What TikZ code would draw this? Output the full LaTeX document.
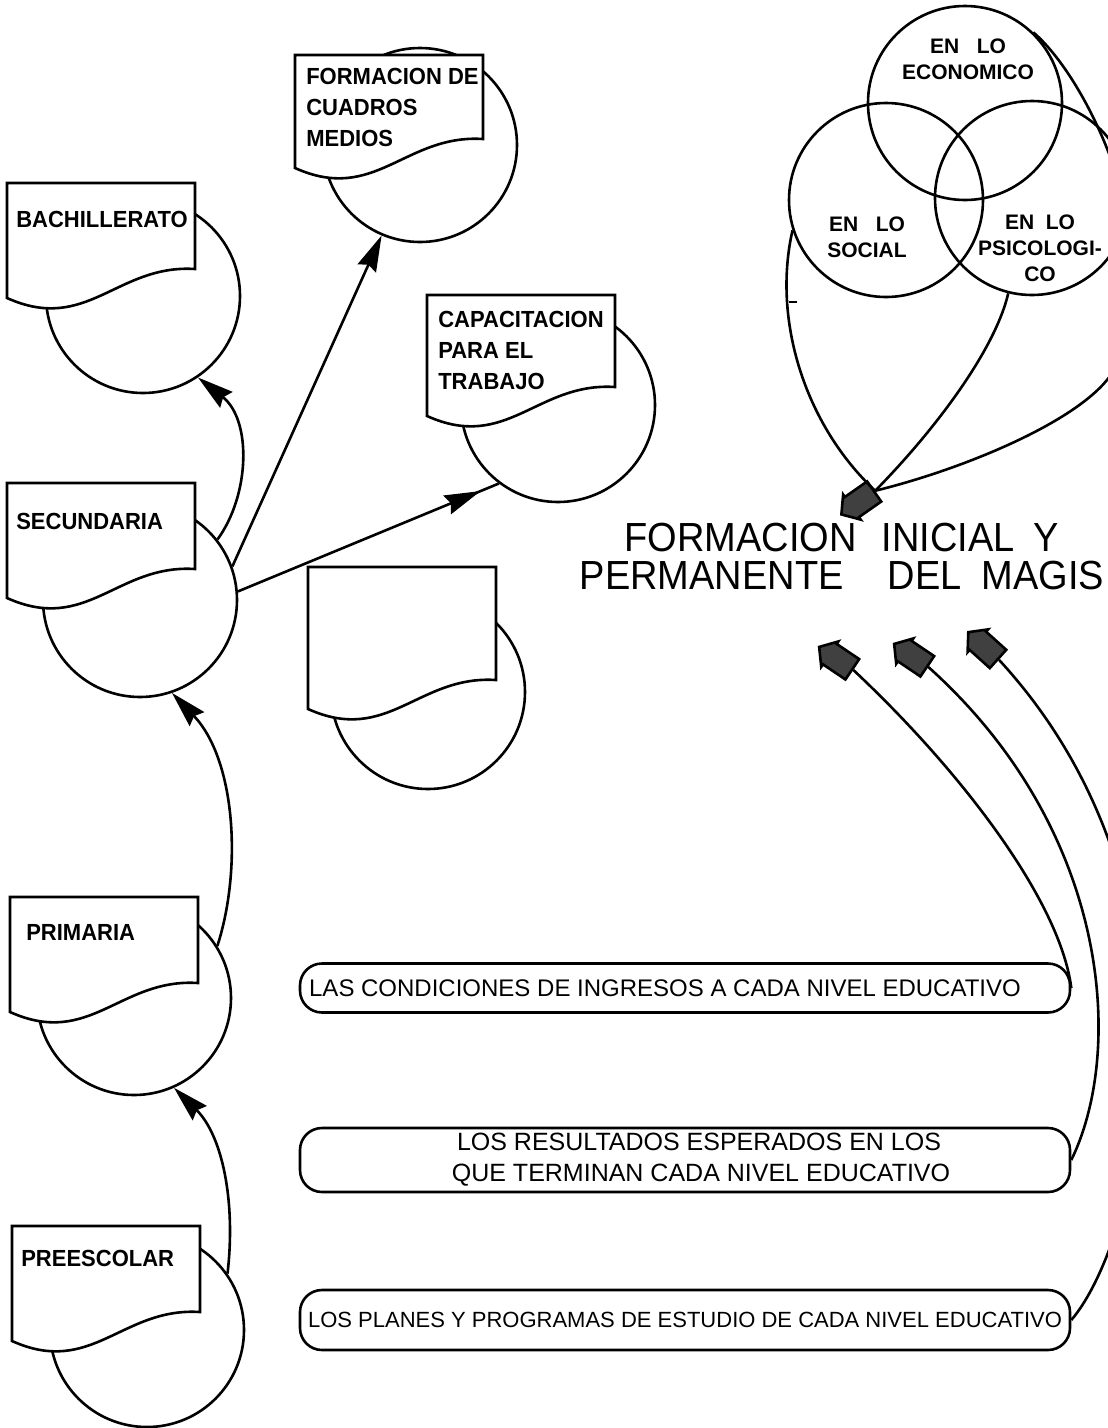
\documentclass[tikz,border=0pt]{standalone}
\usepackage{fontspec}
\setmainfont{Liberation Sans}
\usetikzlibrary{arrows.meta,shapes.arrows,decorations.markings}

\tikzset{
  disc/.style={draw, circle, minimum size=194pt, inner sep=0pt},
  boxlabel/.style={font=\fontsize{22}{29}\selectfont\bfseries, yscale=1.06, align=left, inner sep=0pt, anchor=north west},
  venntext/.style={font=\fontsize{21}{26}\selectfont\bfseries, align=center, inner sep=0pt},
  bigtitle/.style={font=\fontsize{38}{35.5}\selectfont, yscale=1.07, inner sep=0pt, align=center},
  pill/.style={draw, rounded corners=22pt, minimum width=770pt, inner sep=0pt, align=center, font=\fontsize{22}{31}\selectfont},
  blockarrow/.style={single arrow, draw, fill=black!75, inner sep=11pt, minimum height=40pt,
    single arrow head extend=3pt, single arrow tip angle=100},
  link/.style={-{Stealth[length=36pt,width=20pt,inset=4pt]}},
  midtip/.style={postaction={decorate}, decoration={markings,
    mark=at position #1 with {\arrow{Stealth[length=36pt,width=20pt,inset=4pt]}}}}
}

% #1 height of right side, #2 name, #3 top left, #4 circle centre, #5 text offset, #6 text
\newcommand{\docshape}[6][86]{%
  \node[disc] (#2c) at (#4) {};
  \begin{scope}[shift={(#3)}]
    \draw[fill=white] (0,0) coordinate (#2) -- (188,0) -- (188,#1)
      .. controls (110,#1-5) and (80,#1+65) .. (0,#1+29) -- cycle;
    \node[boxlabel] (#2t) at (#5) {#6};
  \end{scope}
}

\begin{document}
\begin{tikzpicture}[x=1pt, y=-1pt, line width=2.6pt]
\useasboundingbox (0,0) rectangle (1108,1428);

% levels
\docshape{bach}{7,183}{143,296}{8,27}{BACHILLERATO}
\docshape[84]{cuad}{295,55}{420,145}{10,12}{FORMACION DE\\CUADROS\\MEDIOS}
\docshape[92]{capa}{427,295}{558,405}{10,15}{CAPACITACION\\PARA EL\\TRABAJO}
\docshape{secu}{7,483}{140,600}{8,29}{SECUNDARIA}
\docshape[113]{vacio}{308,567}{428,692}{10,15}{}
\docshape{prim}{10,897}{134,998}{15,26}{PRIMARIA}
\docshape{pree}{12,1226}{147,1330}{8,23}{PREESCOLAR}

\draw[link] (preec.35) .. controls (236,1200) and (222,1135) .. (primc.-66);
\draw[link] (primc.32) .. controls (242,870) and (236,760) .. (secuc.-71);
\draw[link] (secuc.38) .. controls (250,495) and (252,420) .. (bachc.-56);
\draw[link] (secuc.20) -- (cuadc.-113);
\draw[midtip=0.93] (secuc.5) -- (capac.-127);

% venn
\node[disc] (eco) at (965,103) {};
\node[disc] (soc) at (886,200) {};
\node[disc] (psi) at (1032,198) {};
\node[venntext] (ecot) at (968,59) {EN\ \ \ LO\\ECONOMICO};
\node[venntext] (soct) at (867,237) {EN\ \ \ LO\\SOCIAL};
\node[venntext] (psit) at (1040,248) {EN\ \ LO\\PSICOLOGI-\\CO};

\node[blockarrow, rotate=215] (vtip) at (862,500) {};
\draw (soc.198) .. controls (772,320) and (805,425) .. (vtip.tail);
\draw (psi.-104) .. controls (995,350) and (935,430) .. (vtip.tail);
\draw (eco.46) .. controls (1100,90) and (1180,290) .. (1107,380)
  .. controls (1070,425) and (960,470) .. (vtip.tail);
\draw (789,302) -- (797,302);

\node[bigtitle] (title) at (842,556)
  {FORMACION\hspace{25pt}INICIAL\hspace{19pt}Y\\PERMANENTE\hspace{44pt}DEL\hspace{20pt}MAGIS};

% pills
\node[pill, minimum height=49pt, font=\fontsize{24}{30}\selectfont] (cond) at (685,988)
  {LAS CONDICIONES DE INGRESOS A CADA NIVEL EDUCATIVO\hspace{40pt}};
\node[pill, minimum height=64pt, font=\fontsize{25}{31}\selectfont] (res) at (685,1160)
  {\hspace*{28pt}LOS RESULTADOS ESPERADOS EN LOS\\\hspace*{32pt}QUE TERMINAN CADA NIVEL EDUCATIVO};
\node[pill, minimum height=60pt] (plan) at (685,1320)
  {LOS PLANES Y PROGRAMAS DE ESTUDIO DE CADA NIVEL EDUCATIVO};

\node[blockarrow, rotate=146] (tipa) at (840,661) {};
\node[blockarrow, rotate=146] (tipb) at (915,658) {};
\node[blockarrow, rotate=138] (tipc) at (987,649) {};
\draw (cond.east) .. controls (1060,900) and (960,770) .. (tipa.tail);
\draw (res.east) .. controls (1125,1050) and (1110,830) .. (tipb.tail);
\draw (plan.east) .. controls (1140,1240) and (1220,900) .. (tipc.tail);
\end{tikzpicture}
\end{document}
